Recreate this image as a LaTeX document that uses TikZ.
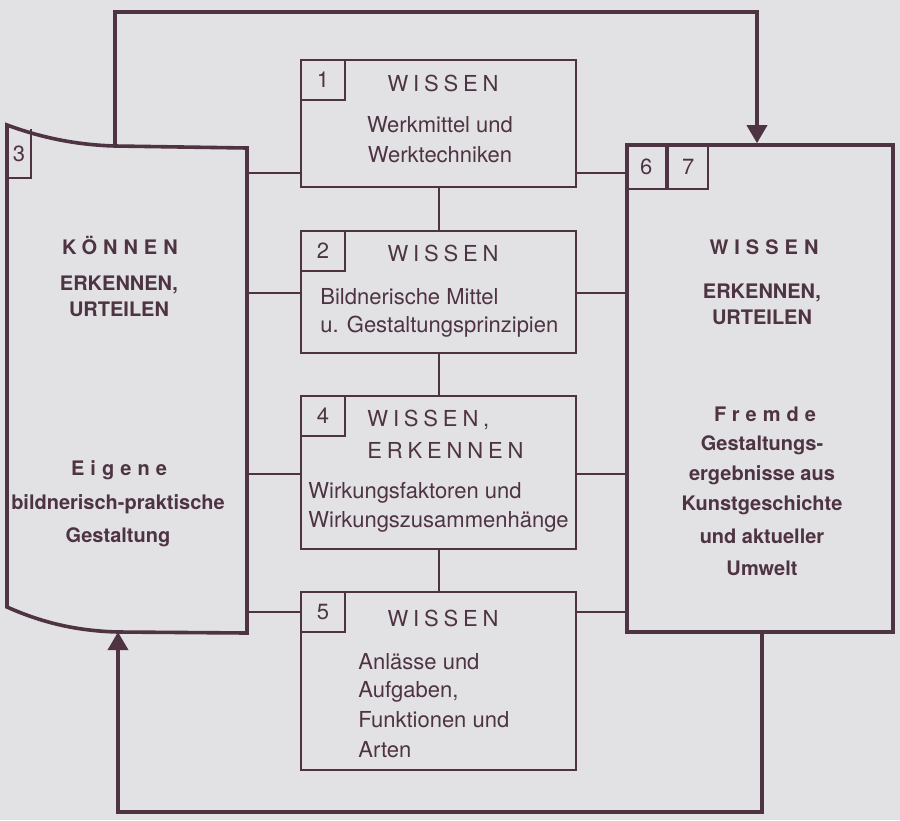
\documentclass[tikz,border=0pt]{standalone}
\usepackage{fontspec}
\setmainfont{TeX Gyre Heros}
\newfontfamily\sperrfont[LetterSpace=22]{TeX Gyre Heros}
\newfontfamily\sperrfett[LetterSpace=30]{TeX Gyre Heros}
\usetikzlibrary{arrows.meta,positioning}
\definecolor{ink}{RGB}{78,52,66}
\definecolor{paper}{RGB}{226,226,229}

\begin{document}
\begin{tikzpicture}[x=0.5pt,y=-0.5pt,
  wbox/.style={draw=ink,line width=1.1pt,minimum width=137.5pt,inner sep=0pt},
  numbox/.style={draw=ink,line width=1pt,minimum width=22pt,minimum height=20pt,inner sep=0pt,anchor=north west,text=ink,font=\fontsize{11}{13}\selectfont},
  kopf/.style={text=ink,inner sep=0pt,font=\fontsize{11}{13}\selectfont\sperrfont},
  txt/.style={text=ink,inner sep=0pt,font=\fontsize{11}{13}\selectfont},
  fkopf/.style={text=ink,inner sep=0pt,font=\fontsize{10}{12}\selectfont\sperrfett\bfseries},
  ftxt/.style={text=ink,inner sep=0pt,font=\fontsize{10}{12}\selectfont\bfseries},
  dick/.style={draw=ink,line width=1.8pt},
  duenn/.style={draw=ink,line width=1pt},
  pfeil/.style={-{Triangle[length=9pt,width=10pt]}}]
\fill[paper] (0,0) rectangle (900,820);

\node[wbox,minimum height=63.5pt] (b1) at (438.5,123.5) {};
\node[wbox,minimum height=61pt] (b2) at (438.5,292) {};
\node[wbox,minimum height=76.5pt] (b4) at (438.5,472.5) {};
\node[wbox,minimum height=89pt] (b5) at (438.5,681) {};
\node[numbox] (n1) at (b1.north west) {1};
\node[numbox] (n2) at (b2.north west) {2};
\node[numbox] (n4) at (b4.north west) {4};
\node[numbox] (n5) at (b5.north west) {5};

\node[dick,minimum width=133pt,minimum height=243.5pt,inner sep=0pt] (rbox) at (760,388.5) {};
\node[numbox,minimum width=20pt,minimum height=22.5pt] (n6) at (rbox.north west) {6};
\node[numbox,minimum width=20pt,minimum height=22.5pt] (n7) at (n6.north east) {7};

\node[minimum width=120pt,minimum height=254pt,inner sep=0pt] (lbox) at (127,379) {};
\coordinate (ltop) at (115,146);
\coordinate (lbot) at (118,632);
\draw[dick] (7,125) .. controls (45,139) and (80,145) .. (ltop) -- (247,148) -- (247,633)
  -- (lbot) .. controls (80,631) and (45,624) .. (7,607) -- cycle;
\node[txt,minimum width=11.5pt,minimum height=24pt,anchor=south west] (n3) at (7,178) {3};
\draw[duenn] (n3.south west) -| (n3.north east);

\coordinate (h1) at (0,173);
\coordinate (h2) at (0,293);
\coordinate (h4) at (0,474);
\coordinate (h5) at (0,612);
\foreach \b/\h in {b1/h1,b2/h2,b4/h4,b5/h5}{
  \draw[duenn] (lbox.east |- \h) -- (\b.west |- \h);
  \draw[duenn] (\b.east |- \h) -- (rbox.west |- \h);
}
\draw[duenn] (b1.south) -- (b2.north);
\draw[duenn] (b2.south) -- (b4.north);
\draw[duenn] (b4.south) -- (b5.north);

\coordinate (ob) at (757,12);
\coordinate (ub) at (762,812);
\draw[dick,pfeil] (ltop) |- (ob) -- (ob |- rbox.north);
\draw[dick,pfeil] (ub |- rbox.south) |- (lbot |- ub) -- (lbot);

\node[kopf] (b1k) at (443,83) {WISSEN};
\node[txt] (b1a) at (440,125) {Werkmittel und};
\node[txt] (b1b) at (440,155) {Werktechniken};
\node[kopf] (b2k) at (443,253) {WISSEN};
\node[txt,anchor=west] (b2a) at (320,297) {Bildnerische Mittel};
\node[txt,anchor=west] (b2b) at (320,327) {u. Gestaltungsprinzipien};
\node[kopf,anchor=west] (b4k) at (367,420) {WISSEN,};
\node[kopf,anchor=west] (b4l) at (367,450) {ERKENNEN};
\node[txt,anchor=west] (b4a) at (308,493) {Wirkungsfaktoren und};
\node[txt,anchor=west] (b4b) at (308,522) {Wirkungszusammenhänge};
\node[kopf] (b5k) at (443,618) {WISSEN};
\node[txt,anchor=west] (b5a) at (358,662) {Anlässe und};
\node[txt,anchor=west] (b5b) at (358,692) {Aufgaben,};
\node[txt,anchor=west] (b5c) at (358,720) {Funktionen und};
\node[txt,anchor=west] (b5d) at (358,750) {Arten};

\node[fkopf] (lk) at (120,245) {KÖNNEN};
\node[ftxt] (la) at (119,285) {ERKENNEN,};
\node[ftxt] (lb) at (119,309) {URTEILEN};
\node[fkopf] (le) at (119,470) {Eigene};
\node[ftxt] (lc) at (118,504) {bildnerisch-praktische};
\node[ftxt] (ld) at (118,537) {Gestaltung};

\node[fkopf] (rk) at (764,247) {WISSEN};
\node[ftxt] (ra) at (762,293) {ERKENNEN,};
\node[ftxt] (rb) at (762,317) {URTEILEN};
\node[fkopf] (rf) at (765,414) {Fremde};
\node[ftxt] (rc) at (762,445) {Gestaltungs-};
\node[ftxt] (rd) at (762,475) {ergebnisse aus};
\node[ftxt] (re) at (762,505) {Kunstgeschichte};
\node[ftxt] (rg) at (762,536) {und aktueller};
\node[ftxt] (rh) at (762,568) {Umwelt};
\end{tikzpicture}
\end{document}
